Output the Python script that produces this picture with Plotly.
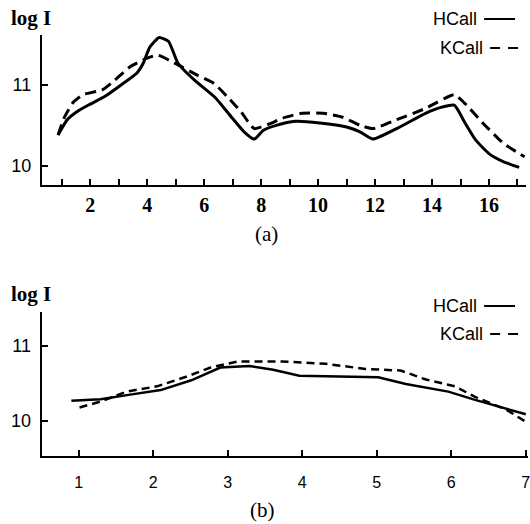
import plotly.graph_objects as go

# ---- data: panel (a)
a_h_x = [0.87, 1.19, 1.53, 1.98, 2.52, 3.08, 3.64, 3.86, 4.09, 4.42, 4.75, 5.08, 5.66, 6.40, 6.94, 7.40, 7.76,
         8.08, 8.53, 9.20, 10.06, 11.00, 11.47, 11.93, 12.76, 13.77, 14.28, 14.78, 15.16, 15.53, 16.00, 16.50, 17.06]
a_h_y = [10.38, 10.57, 10.67, 10.76, 10.86, 11.00, 11.15, 11.27, 11.47, 11.59, 11.54, 11.27, 11.06, 10.84, 10.61, 10.42, 10.33,
         10.44, 10.50, 10.55, 10.53, 10.48, 10.42, 10.33, 10.46, 10.65, 10.72, 10.75, 10.53, 10.32, 10.15, 10.05, 9.98]
a_k_x = [0.87, 1.08, 1.41, 1.75, 2.42, 2.86, 3.41, 3.98, 4.37, 5.08, 5.77, 6.34, 6.80, 7.29, 7.76,
         8.30, 8.76, 9.43, 10.18, 10.88, 11.47, 11.93, 12.76, 13.77, 14.78, 15.16, 15.78, 16.50, 17.25]
a_k_y = [10.38, 10.59, 10.79, 10.88, 10.94, 11.06, 11.23, 11.33, 11.37, 11.25, 11.12, 11.02, 10.86, 10.67, 10.46,
         10.52, 10.59, 10.65, 10.65, 10.60, 10.50, 10.46, 10.57, 10.71, 10.88, 10.77, 10.53, 10.28, 10.11]
a_tickvals = list(range(1, 18))
a_ticktext = ["" if v % 2 else str(v) for v in a_tickvals]

# ---- data: panel (b)
b_h_x = [0.90, 1.29, 1.69, 2.10, 2.51, 2.90, 3.29, 3.61, 3.96, 4.42, 5.02, 5.39, 5.96, 6.32, 6.64, 7.00]
b_h_y = [10.27, 10.29, 10.35, 10.41, 10.54, 10.71, 10.73, 10.68, 10.60, 10.59, 10.58, 10.49, 10.39, 10.28, 10.19, 10.09]
b_k_x = [1.01, 1.30, 1.64, 2.05, 2.45, 2.77, 3.13, 3.72, 4.31, 4.85, 5.32, 5.66, 6.05, 6.32, 6.74, 7.00]
b_k_y = [10.18, 10.26, 10.39, 10.46, 10.59, 10.71, 10.79, 10.79, 10.76, 10.69, 10.67, 10.55, 10.46, 10.32, 10.15, 9.99]
b_tickvals = [1, 2, 3, 4, 5, 6, 7]
y_tickvals = [10, 11]

W, H = 530, 524
def px(x): return x / W
def py(y): return 1 - y / H

fig = go.Figure()
fig.add_trace(go.Scatter(x=a_h_x, y=a_h_y, mode="lines", name="HCall", xaxis="x", yaxis="y",
                         line=dict(color="black", width=3, shape="spline", smoothing=0.5)))
fig.add_trace(go.Scatter(x=a_k_x, y=a_k_y, mode="lines", name="KCall", xaxis="x", yaxis="y",
                         line=dict(color="black", width=3, dash="11px,6px", shape="spline", smoothing=0.5)))
fig.add_trace(go.Scatter(x=b_h_x, y=b_h_y, mode="lines", name="HCall", xaxis="x2", yaxis="y2",
                         line=dict(color="black", width=2.5)))
fig.add_trace(go.Scatter(x=b_k_x, y=b_k_y, mode="lines", name="KCall", xaxis="x2", yaxis="y2",
                         line=dict(color="black", width=2.5, dash="8px,5px")))

sans = "Liberation Sans, Arial, sans-serif"
serif = "Liberation Serif, Times New Roman, serif"
common_axis = dict(showline=True, linecolor="black", linewidth=2, showgrid=False, zeroline=False,
                   ticks="inside", tickcolor="black", tickwidth=1.5, ticklen=6, ticklabeloverflow="allow")

fig.update_layout(
    width=W, height=H, margin=dict(l=0, r=0, t=0, b=0),
    paper_bgcolor="white", plot_bgcolor="white", showlegend=False,
    xaxis=dict(domain=[px(42), px(528)], range=[0.3, 17.3], anchor="y",
               tickvals=a_tickvals, ticktext=["<b>%s</b>" % t if t else "" for t in a_ticktext],
               tickfont=dict(family=serif, size=20, color="black"), ticklabelstandoff=1, **common_axis),
    yaxis=dict(domain=[py(185), py(35)], range=[9.761, 11.62], anchor="x",
               tickvals=y_tickvals, tickfont=dict(family=sans, size=18, color="black"),
               ticklabelstandoff=5, **common_axis),
    xaxis2=dict(domain=[px(41.7), 1.0], range=[0.5, 7.03], anchor="y2",
                tickvals=b_tickvals, tickfont=dict(family=sans, size=16, color="black"),
                ticklabelstandoff=11, **common_axis),
    yaxis2=dict(domain=[py(455.7), py(311.7)], range=[9.54, 11.45], anchor="x2",
                tickvals=y_tickvals, tickfont=dict(family=sans, size=18, color="black"),
                ticklabelstandoff=5, **common_axis),
)

ann = []
def text(x, y, s, fam, size, bold=False, xanchor="center"):
    ann.append(dict(x=px(x), y=py(y), xref="paper", yref="paper", text=("<b>%s</b>" % s) if bold else s,
                    showarrow=False, xanchor=xanchor, yanchor="middle",
                    font=dict(family=fam, size=size, color="black")))

text(9, 18, "log I", serif, 21, bold=True, xanchor="left")
text(9, 294, "log I", serif, 21, bold=True, xanchor="left")
text(481, 19, "HCall", sans, 18, xanchor="right")
text(487, 48, "KCall", sans, 18, xanchor="right")
text(481, 306, "HCall", sans, 18, xanchor="right")
text(487, 334, "KCall", sans, 18, xanchor="right")
text(268, 234, "(a)", serif, 21)
text(263, 510, "(b)", serif, 21)
fig.update_layout(annotations=ann)

shapes = []
def seg(x0, x1, y, w=2):
    shapes.append(dict(type="line", xref="paper", yref="paper", x0=px(x0), x1=px(x1), y0=py(y), y1=py(y),
                       line=dict(color="black", width=w)))
seg(486, 517, 19)
seg(492, 502, 48); seg(510, 520, 48)
seg(486, 517, 306)
seg(492, 502, 334); seg(510, 520, 334)
fig.update_layout(shapes=shapes)

fig.write_html("out.html", config={"displayModeBar": False},
               post_script="document.body.style.margin='0';document.body.style.overflow='hidden';")
